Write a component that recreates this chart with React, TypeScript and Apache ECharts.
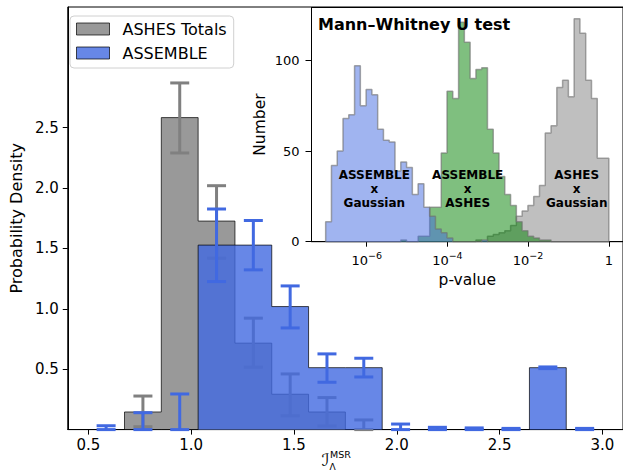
import React, { useEffect, useRef } from 'react';
import * as echarts from 'echarts';

const FONT = 'DejaVu Sans';

// ---------- main histogram (probability density) ----------
const mainBinStart = 0.497;
const mainBinWidth = 0.179;
const ashesDensity = [0, 0.146, 2.584, 1.727, 0.716, 0.293, 0.146, 0, 0, 0, 0, 0, 0, 0];
const ashesErrLow = [null, 0.024, 2.291, 1.42, 0.517, 0.115, 0.03, 0, null, null, null, null, null, null];
const ashesErrHigh = [null, 0.278, 2.871, 2.02, 0.923, 0.461, 0.265, 0.08, null, null, null, null, null, null];
const assembleDensity = [0, 0, 0, 1.528, 1.528, 1.019, 0.513, 0.513, 0, 0, 0, 0, 0.513, 0];
const assembleErrLow = [0, 0, 0, 1.226, 1.323, 0.842, 0.392, 0.436, 0, 0, 0, 0, 0.505, 0];
const assembleErrHigh = [0.032, 0.14, 0.295, 1.827, 1.732, 1.19, 0.627, 0.591, 0.046, 0.019, 0.014, 0.01, 0.519, 0.01];
const mainXTicks = [0.5, 1.0, 1.5, 2.0, 2.5, 3.0];
const mainYTicks = [0.5, 1.0, 1.5, 2.0, 2.5];

// ---------- inset histogram (p-values, log10 bins) ----------
const pBinStartLog = -7.016;
const pBinWidthLog = 0.14318;
const countAssembleGauss = [11, 42, 50, 68, 70, 97, 75, 84, 81, 62, 56, 55, 39, 44, 41, 26, 32, 19, 14, 7, 5, 2, 0, 0, 0, 0, 0, 1, 0, 0, 0, 0, 0, 0, 0, 0, 0, 0, 0, 0, 0, 0, 0, 0, 0, 0, 0, 0, 0];
const countAssembleAshes = [0, 0, 0, 0, 0, 0, 0, 0, 0, 0, 0, 0, 0, 1, 0, 0, 3, 3, 19, 19, 49, 83, 79, 121, 110, 90, 95, 96, 62, 49, 36, 26, 20, 11, 6, 3, 2, 1, 1, 0, 0, 0, 0, 0, 0, 0, 0, 0, 0];
const countAshesGauss = [0, 0, 0, 0, 0, 0, 0, 0, 0, 0, 0, 0, 0, 0, 0, 0, 0, 0, 0, 0, 0, 0, 0, 0, 0, 0, 1, 0, 3, 4, 5, 6, 9, 14, 17, 20, 25, 31, 60, 64, 85, 89, 80, 123, 115, 89, 79, 46, 46];
const insetXTickExponents = [-6, -4, -2, 0];
const insetYTicks = [0, 50, 100];

function edgesOf(start: number, width: number, n: number) {
  const e: number[] = [];
  for (let k = 0; k <= n; k++) e.push(start + k * width);
  return e;
}
function stepData(edges: number[], vals: number[]) {
  const d: number[][] = [[edges[0], 0]];
  vals.forEach((v, i) => d.push([edges[i], v]));
  d.push([edges[vals.length], vals[vals.length - 1]]);
  d.push([edges[vals.length], 0]);
  return d;
}
function errData(edges: number[], lo: (number | null)[], hi: (number | null)[]) {
  const d: number[][] = [];
  lo.forEach((l, i) => {
    const h = hi[i];
    if (l === null || h === null) return;
    d.push([(edges[i] + edges[i + 1]) / 2, l, h]);
  });
  return d;
}
function errRender(color: string, halfCap: number, lw: number) {
  return (params: any, api: any) => {
    const x = api.value(0);
    const p0 = api.coord([x, api.value(1)]);
    const p1 = api.coord([x, api.value(2)]);
    const style = { stroke: color, lineWidth: lw };
    return {
      type: 'group',
      children: [
        { type: 'line', shape: { x1: p0[0], y1: p0[1], x2: p1[0], y2: p1[1] }, style },
        { type: 'line', shape: { x1: p0[0] - halfCap, y1: p0[1], x2: p0[0] + halfCap, y2: p0[1] }, style },
        { type: 'line', shape: { x1: p1[0] - halfCap, y1: p1[1], x2: p1[0] + halfCap, y2: p1[1] }, style },
      ],
    };
  };
}

const annoStyle = (text: string) => ({
  text, fontSize: 12, lineHeight: 14.2, fontWeight: 'bold', fontFamily: FONT, fill: '#000',
  align: 'center', verticalAlign: 'middle', textAlign: 'center', textVerticalAlign: 'middle',
});

export default function App() {
  const ref = useRef<HTMLDivElement>(null);
  useEffect(() => {
    if (!ref.current) return;
    const chart = echarts.init(ref.current, undefined, { renderer: 'svg' });
    const mEdges = edgesOf(mainBinStart, mainBinWidth, ashesDensity.length);
    const pEdges = edgesOf(pBinStartLog, pBinWidthLog, countAssembleGauss.length);

    const gray = 'rgba(128,128,128,0.8)';
    const blue = 'rgba(65,105,225,0.8)';
    const edgeCol = 'rgba(0,0,0,0.7)';
    const insetEdge = 'rgba(110,110,110,0.6)';

    const option: any = {
      animation: false,
      textStyle: { fontFamily: FONT },
      grid: [
        { left: 62, top: 7, width: 561, height: 422.6, show: true, borderColor: '#000', borderWidth: 1, backgroundColor: 'transparent' },
        { left: 311.5, top: 7.5, width: 312, height: 234.2, show: true, borderColor: '#000', borderWidth: 1, backgroundColor: '#fff', z: 5 },
      ],
      xAxis: [
        {
          type: 'value', gridIndex: 0, min: 0.4, max: 3.1,
          axisLine: { show: true, onZero: false, lineStyle: { color: '#000', width: 1 } },
          axisTick: { show: true, customValues: mainXTicks, length: 5, lineStyle: { color: '#000' } },
          axisLabel: { customValues: mainXTicks, margin: 8, fontSize: 15, color: '#000', fontFamily: FONT, formatter: (v: number) => v.toFixed(1) },
          splitLine: { show: false },
        },
        {
          type: 'value', gridIndex: 1, min: -7.367, max: 0.351, z: 6,
          name: 'p-value', nameLocation: 'middle', nameGap: 28.5,
          nameTextStyle: { fontSize: 15.5, color: '#000', fontFamily: FONT },
          axisLine: { show: true, onZero: false, lineStyle: { color: '#000', width: 1 } },
          axisTick: { show: true, customValues: insetXTickExponents, length: 5, lineStyle: { color: '#000' } },
          axisLabel: {
            customValues: insetXTickExponents, margin: 9, fontSize: 13, color: '#000', fontFamily: FONT, lineHeight: 20,
            formatter: (v: number) => (v === 0 ? '1' : '10{sup|\u2212' + Math.abs(v) + '}'),
            rich: { sup: { fontSize: 9.5, lineHeight: 10, padding: [0, 0, 10, 0], color: '#000', fontFamily: FONT } },
          },
          splitLine: { show: false },
        },
      ],
      yAxis: [
        {
          type: 'value', gridIndex: 0, min: 0, max: 3.5,
          name: 'Probability Density', nameLocation: 'middle', nameGap: 39,
          nameTextStyle: { fontSize: 16, color: '#000', fontFamily: FONT },
          axisLine: { show: true, onZero: false, lineStyle: { color: '#000', width: 1 } },
          axisTick: { show: true, customValues: mainYTicks, length: 5, lineStyle: { color: '#000' } },
          axisLabel: { customValues: mainYTicks, margin: 9, fontSize: 15, color: '#000', fontFamily: FONT, formatter: (v: number) => v.toFixed(1) },
          splitLine: { show: false },
        },
        {
          type: 'value', gridIndex: 1, min: 0, max: 129.2, z: 6,
          name: 'Number', nameLocation: 'middle', nameGap: 44,
          nameTextStyle: { fontSize: 15.5, color: '#000', fontFamily: FONT },
          axisLine: { show: true, onZero: false, lineStyle: { color: '#000', width: 1 } },
          axisTick: { show: true, customValues: insetYTicks, length: 6, lineStyle: { color: '#000' } },
          axisLabel: { customValues: insetYTicks, margin: 12, fontSize: 13, color: '#000', fontFamily: FONT },
          splitLine: { show: false },
        },
      ],
      legend: {
        orient: 'vertical', left: 70, top: 16, padding: [5, 7, 7, 6], itemGap: 8,
        itemWidth: 33, itemHeight: 12, selectedMode: false,
        backgroundColor: 'rgba(255,255,255,0.8)', borderColor: '#d0d0d0', borderWidth: 1, borderRadius: 4,
        textStyle: { fontSize: 16, fontFamily: FONT, color: '#000', padding: [0, 0, 0, 8] },
        data: [
          { name: 'ASHES Totals', icon: 'rect', itemStyle: { color: gray, borderColor: edgeCol, borderWidth: 1 } },
          { name: 'ASSEMBLE', icon: 'rect', itemStyle: { color: blue, borderColor: edgeCol, borderWidth: 1 } },
        ],
      },
      graphic: [
        { type: 'text', x: 318, y: 24.5, z: 100, style: { text: 'Mann\u2013Whitney U test', fontSize: 16, fontWeight: 'bold', fontFamily: FONT, fill: '#000', align: 'left', verticalAlign: 'middle', textAlign: 'left', textVerticalAlign: 'middle' } },
        { type: 'text', x: 374.3, y: 189, z: 100, style: annoStyle('ASSEMBLE\nx\nGaussian') },
        { type: 'text', x: 467.7, y: 189, z: 100, style: annoStyle('ASSEMBLE\nx\nASHES') },
        { type: 'text', x: 576.7, y: 189, z: 100, style: annoStyle('ASHES\nx\nGaussian') },
        { type: 'text', x: 325.5, y: 459.5, style: { text: '\u2110', fontSize: 17, fontStyle: 'italic', fontFamily: FONT, fill: '#000', align: 'center', verticalAlign: 'middle', textAlign: 'center', textVerticalAlign: 'middle' } },
        { type: 'text', x: 330, y: 454.5, style: { text: 'MSR', fontSize: 9.5, fontFamily: FONT, fill: '#000', align: 'left', verticalAlign: 'middle', textAlign: 'left', textVerticalAlign: 'middle' } },
        { type: 'text', x: 329.5, y: 466.5, style: { text: '\u039B', fontSize: 9, fontFamily: FONT, fill: '#000', align: 'left', verticalAlign: 'middle', textAlign: 'left', textVerticalAlign: 'middle' } },
      ],
      series: [
        {
          name: 'ASHES Totals', type: 'line', xAxisIndex: 0, yAxisIndex: 0, step: 'end', z: 1,
          showSymbol: false, symbol: 'none', data: stepData(mEdges, ashesDensity),
          lineStyle: { color: edgeCol, width: 1 }, itemStyle: { color: gray }, areaStyle: { color: gray, opacity: 1 },
        },
        {
          name: 'ASHES err', type: 'custom', xAxisIndex: 0, yAxisIndex: 0, z: 2,
          renderItem: errRender('#808080', 9.5, 3), encode: { x: 0, y: [1, 2] },
          data: errData(mEdges, ashesErrLow, ashesErrHigh),
        },
        {
          name: 'ASSEMBLE', type: 'line', xAxisIndex: 0, yAxisIndex: 0, step: 'end', z: 3,
          showSymbol: false, symbol: 'none', data: stepData(mEdges, assembleDensity),
          lineStyle: { color: edgeCol, width: 1 }, itemStyle: { color: blue }, areaStyle: { color: blue, opacity: 1 },
        },
        {
          name: 'ASSEMBLE err', type: 'custom', xAxisIndex: 0, yAxisIndex: 0, z: 4,
          renderItem: errRender('#4169E1', 9.5, 3), encode: { x: 0, y: [1, 2] },
          data: errData(mEdges, assembleErrLow, assembleErrHigh),
        },
        {
          name: 'ASHES x Gaussian', type: 'line', xAxisIndex: 1, yAxisIndex: 1, step: 'end', z: 7,
          showSymbol: false, symbol: 'none', data: stepData(pEdges, countAshesGauss),
          lineStyle: { color: insetEdge, width: 1.5 }, areaStyle: { color: 'rgba(128,128,128,0.5)', opacity: 1 },
        },
        {
          name: 'ASSEMBLE x ASHES', type: 'line', xAxisIndex: 1, yAxisIndex: 1, step: 'end', z: 8,
          showSymbol: false, symbol: 'none', data: stepData(pEdges, countAssembleAshes),
          lineStyle: { color: insetEdge, width: 1.5 }, areaStyle: { color: 'rgba(0,128,0,0.5)', opacity: 1 },
        },
        {
          name: 'ASSEMBLE x Gaussian', type: 'line', xAxisIndex: 1, yAxisIndex: 1, step: 'end', z: 9,
          showSymbol: false, symbol: 'none', data: stepData(pEdges, countAssembleGauss),
          lineStyle: { color: insetEdge, width: 1.5 }, areaStyle: { color: 'rgba(65,105,225,0.5)', opacity: 1 },
        },
      ],
    };
    chart.setOption(option);
    return () => chart.dispose();
  }, []);
  return <div ref={ref} style={{ position: 'fixed', left: 0, top: 0, width: 623, height: 474, background: '#fff' }} />;
}
